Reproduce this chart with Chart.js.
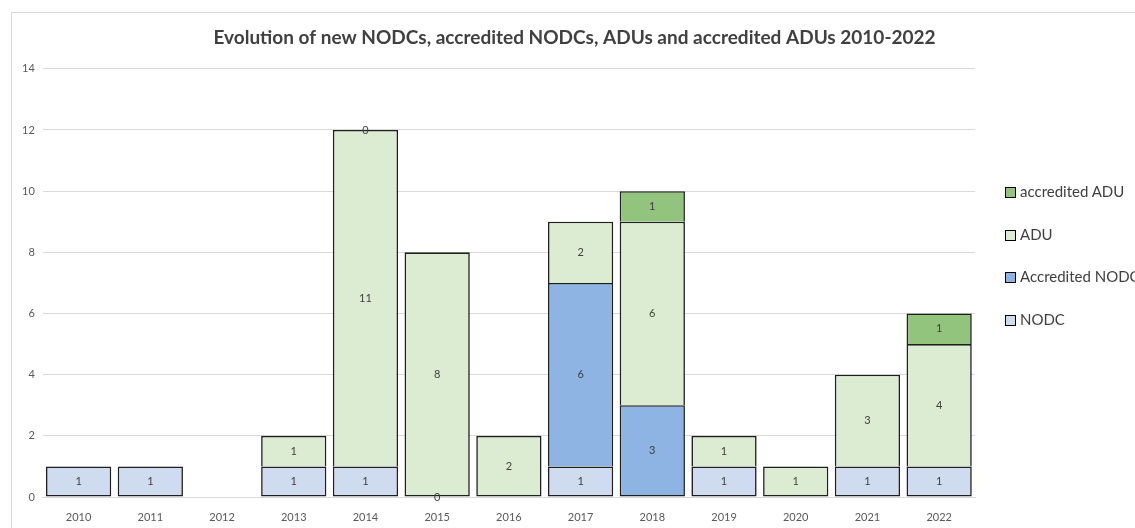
<!DOCTYPE html>
<html>
<head>
<meta charset="utf-8">
<script src="https://cdn.jsdelivr.net/npm/chart.js@4"></script>
<style>
  html, body { margin: 0; padding: 0; background: #fff; overflow: hidden; }
  #wrap { position: relative; width: 1135px; height: 528px; }
  #frame { position: absolute; left: 11px; top: 12px; width: 1200px; height: 600px;
           border-left: 1px solid #d9d9d9; border-top: 1px solid #d9d9d9; }
  #legenda { position: absolute; left: 1005px; top: 182px; font-family: Lato, sans-serif;
             font-size: 15px; color: #404040; white-space: nowrap; }
  .item { height: 42.5px; display: flex; align-items: flex-start; }
  .caixa { width: 9px; height: 9px; border: 1px solid #000; margin: 5px 4px 0 0; }
</style>
</head>
<body>
<div id="wrap">
  <div id="frame"></div>
  <canvas id="grafico" width="1135" height="528"></canvas>
  <div id="legenda"></div>
</div>
<script>
const anos = ['2010','2011','2012','2013','2014','2015','2016','2017','2018','2019','2020','2021','2022'];
const nodc = [1, 1, null, 1, 1, 0, null, 1, null, 1, null, 1, 1];
const nodcAcred = [null, null, null, null, null, null, null, 6, 3, null, null, null, null];
const adu = [null, null, null, 1, 11, 8, 2, 2, 6, 1, 1, 3, 4];
const aduAcred = [null, null, null, null, 0, null, null, null, 1, null, null, null, 1];
const ticksY = [0, 2, 4, 6, 8, 10, 12, 14];

const cinza = '#595959';

// escreve os valores no meio de cada pedaço da barra
const rotulos = {
  id: 'rotulos',
  afterDatasetsDraw(chart) {
    const c = chart.ctx;
    c.save();
    c.font = '11px Lato, sans-serif';
    c.fillStyle = '#404040';
    c.textAlign = 'center';
    c.textBaseline = 'middle';
    chart.data.datasets.forEach((ds, i) => {
      chart.getDatasetMeta(i).data.forEach((bar, j) => {
        const v = ds.data[j];
        if (v === null || v === undefined) return;
        c.fillText(String(v), bar.x, (bar.y + bar.base) / 2);
      });
    });
    c.restore();
  }
};

const series = [
  { label: 'NODC', data: nodc, backgroundColor: '#cfdbef' },
  { label: 'Accredited NODC', data: nodcAcred, backgroundColor: '#8db4e2' },
  { label: 'ADU', data: adu, backgroundColor: '#dcecd2' },
  { label: 'accredited ADU', data: aduAcred, backgroundColor: '#93c47d' }
];

// sem borda de baixo quando já existe um pedaço por baixo (evita linha dupla)
function bordaBaixo(context) {
  const j = context.dataIndex;
  for (let k = 0; k < context.datasetIndex; k++) {
    if (series[k].data[j] > 0) return 'bottom';
  }
  return false;
}

const grafico = new Chart(document.getElementById('grafico'), {
  type: 'bar',
  data: {
    labels: anos,
    datasets: series.map(s => ({
      ...s,
      borderColor: '#1f1f1f',
      borderWidth: 1.6,
      borderSkipped: bordaBaixo,
      categoryPercentage: 0.91,
      barPercentage: 1
    }))
  },
  options: {
    responsive: false,
    animation: false,
    layout: { padding: { left: 14, right: 0, bottom: 4 } },
    plugins: {
      legend: { display: false },
      tooltip: { enabled: false },
      title: {
        display: true,
        text: 'Evolution of new NODCs, accredited NODCs, ADUs and accredited ADUs 2010-2022',
        font: { family: 'Lato, sans-serif', size: 19, weight: 'bold' },
        color: '#404040',
        padding: { top: 26, bottom: 20 }
      }
    },
    scales: {
      x: {
        stacked: true,
        grid: { display: false, drawTicks: false },
        border: { color: '#d9d9d9', width: 1 },
        ticks: { color: cinza, font: { family: 'Lato, sans-serif', size: 11 }, padding: 14 },
        afterFit: axis => { axis.height = 27; }
      },
      y: {
        stacked: true,
        min: 0,
        max: 14,
        afterBuildTicks: axis => { axis.ticks = ticksY.map(v => ({ value: v })); },
        grid: { color: '#d9d9d9', drawTicks: false },
        border: { display: false },
        ticks: { color: cinza, font: { family: 'Lato, sans-serif', size: 11 }, padding: 8 }
      },
      // espaço vazio à direita para a legenda
      espaco: {
        type: 'linear',
        position: 'right',
        display: true,
        grid: { display: false, drawTicks: false },
        border: { display: false },
        ticks: { display: false },
        afterFit: axis => { axis.width = 160; }
      }
    }
  },
  plugins: [rotulos]
});

// legenda na ordem inversa, como no original
const legendaDiv = document.getElementById('legenda');
series.slice().reverse().forEach(s => {
  const item = document.createElement('div');
  item.className = 'item';
  item.innerHTML = `<span class="caixa" style="background:${s.backgroundColor}"></span><span>${s.label}</span>`;
  legendaDiv.appendChild(item);
});
</script>
</body>
</html>
